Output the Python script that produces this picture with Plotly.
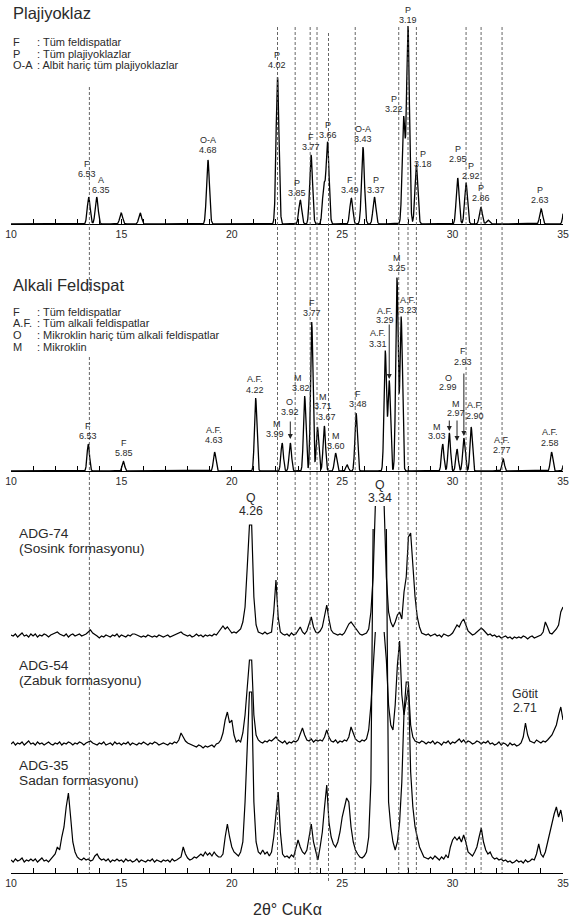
import numpy as np
import plotly.graph_objects as go

# ====================== DATA ======================
TICK_VALUES = list(range(10, 36))
TICK_TEXT = [str(v) if v % 5 == 0 else "" for v in TICK_VALUES]

# Panel 1 - Plajiyoklaz (reference stick pattern)
PLAG_2THETA = [13.52, 13.88, 14.99, 15.85, 18.92, 22.07, 23.10, 23.59, 24.17, 24.34,
               25.41, 25.94, 26.46, 27.78, 27.98, 28.36, 30.23, 30.61, 31.28, 31.60,
               34.01, 35.08]
PLAG_INTENSITY = [27, 27, 11, 11, 64, 147, 24, 69, 38, 81,
                  26, 77, 27, 106, 197, 59, 46, 41, 17, 4,
                  15, 22]
PLAG_KEYS = ["F", "A", "O-A", "P", "P", "F", "P", "F", "O-A", "P", "P", "P", "P", "P", "P", "P", "P"]
PLAG_D = ["6.53", "6.35", "4.68", "4.02", "3.85", "3.77", "3.66", "3.49", "3.43", "3.37",
          "3.22", "3.19", "3.18", "2.95", "2.92", "2.86", "2.63"]

# Panel 2 - Alkali feldispat (reference stick pattern)
ALK_2THETA = [13.50, 15.09, 19.22, 21.08, 22.28, 22.65, 23.30, 23.62, 23.88, 24.19,
              24.70, 25.22, 25.63, 26.95, 27.13, 27.48, 27.67, 29.55, 29.85, 30.20,
              30.51, 30.84, 32.29, 34.48, 35.08]
ALK_INTENSITY = [27, 9.5, 19, 73, 28, 28, 75, 149, 44, 45,
                 18, 6, 58, 120, 90, 193, 154, 27, 38, 22,
                 33, 44, 12, 19, 16]
ALK_KEYS = ["F", "F", "A.F.", "A.F.", "M", "O", "M", "F", "M", "", "M", "F", "A.F.", "A.F.",
            "M", "A.F.", "M", "O", "M", "F", "A.F.", "A.F.", "A.F."]
ALK_D = ["6.53", "5.85", "4.63", "4.22", "3.99", "3.92", "3.82", "3.77", "3.71", "3.67", "3.60",
         "3.48", "3.31", "3.29", "3.25", "3.23", "3.03", "2.99", "2.97", "2.93", "2.90", "2.77", "2.58"]

# Guide lines (°2θ)
GUIDE_2THETA = [13.55, 22.07, 22.87, 23.55, 23.86, 24.38, 25.59, 27.56, 27.98, 28.36,
                30.61, 31.29, 32.24]

# Panel 3 - measured patterns, sampled every 0.1° from 10.0 to 35.0 (intensity above own baseline)
SCAN_START, SCAN_STEP = 10.0, 0.1
ADG74 = [2, 1, 3, 0, 2, 4, 1, 2, 0, 3,
         1, 3, 0, 2, 1, 3, 2, 0, 2, 3,
         4, 5, 3, 2, 1, 3, 0, 2, 3, 1,
         2, 3, 1, 2, 3, 5, 7, 4, 2, 1,
         -1, 1, 0, 2, 1, 0, 2, 1, 3, 0,
         2, 1, 0, 2, 1, 3, 3, 2, 1, 0,
         1, 0, 2, 1, 0, 1, 0, 2, 1, 0,
         1, 2, 0, 1, 2, 3, 4, 5, 3, 2,
         1, 2, 0, 1, 3, 1, 2, 0, 2, 1,
         2, 1, 3, 2, 5, 9, 11, 8, 10, 7,
         4, 5, 4, 6, 8, 15, 30, 70, 112, 112,
         40, 12, 5, 4, 3, 5, 3, 4, 5, 25,
         57, 20, 5, 3, 2, 3, 1, 4, 2, 3,
         6, 10, 5, 3, 6, 12, 20, 10, 5, 4,
         6, 10, 20, 32, 18, 7, 4, 3, 2, 3,
         2, 4, 8, 13, 15, 12, 9, 5, 3, 2,
         3, 4, 8, 25, 60, 131, None, None, None, 131,
         60, 25, 15, 10, 15, 22, 25, 18, 45, 60,
         100, 104, 70, 40, 20, 10, 4, 3, 2, 3,
         1, 2, 3, 1, 2, 0, 3, 2, 1, 2,
         4, 8, 12, 10, 15, 18, 12, 6, 4, 2,
         3, 5, 6, 9, 7, 4, 2, 3, 1, 2,
         0, 1, -1, 0, 1, -1, 0, -2, 0, -1,
         0, -1, 1, 0, -2, 0, 1, -1, 0, 1,
         2, 5, 15, 10, 4, 3, 5, 8, 12, 25,
         30]
ADG54 = [1, 3, 0, 2, 1, 3, 0, 2, 4, 1,
         2, 0, 3, 1, 2, 0, 2, 3, 1, 0,
         2, 1, 3, 0, 2, 1, 3, 2, 0, 2,
         1, 3, 2, 0, 2, 3, 4, 2, 1, 0,
         2, 1, 3, 0, 1, 2, 0, 3, 1, 2,
         0, 2, 1, 3, 0, 2, 1, 0, 2, 1,
         3, 1, 0, 2, 1, 3, 2, 0, 1, 2,
         1, 0, 2, 1, 3, 2, 5, 12, 8, 4,
         2, 1, 0, -1, -2, 0, -1, -3, -1, -2,
         -1, 0, -2, 1, 2, 5, 12, 25, 33, 22,
         25, 10, 3, 5, 3, 12, 30, 60, 85, 85,
         30, 10, 5, 3, 2, 4, 3, 5, 4, 6,
         8, 5, 3, 2, 4, 1, 3, 2, 4, 3,
         5, 12, 17, 10, 5, 4, 6, 3, 5, 4,
         5, 4, 8, 15, 8, 4, 3, 5, 2, 4,
         3, 5, 4, 8, 18, 12, 6, 4, 3, 5,
         4, 6, 15, 40, 80, 113, None, None, None, 113,
         85, 40, 20, 15, 40, 80, 104, 50, 30, 45,
         58, 20, 8, 4, 3, 2, 4, 3, 1, 3,
         2, 4, 1, 3, 2, 0, 3, 2, 4, 1,
         3, 2, 4, 6, 3, 5, 2, 4, 3, 1,
         2, 4, 3, 1, 3, 2, 4, 1, 2, 0,
         1, 3, 0, 2, 1, -1, 2, 0, 1, -1,
         0, 2, 8, 22, 10, 4, 3, 2, 5, 3,
         2, 4, 3, 5, 8, 10, 15, 20, 30, 38,
         25]
ADG35 = [2, 0, 3, 1, 2, 4, 0, 2, 1, 3,
         1, 3, 0, 2, 4, 1, 2, 0, 3, 5,
         8, 15, 12, 25, 35, 55, 69, 45, 20, 10,
         5, 3, 2, 4, 2, 3, 1, 2, 6, 8,
         4, 2, 3, 1, 3, 0, 2, 1, 3, 1,
         2, 0, 3, 1, 2, 0, 1, 3, 0, 2,
         1, 0, 2, 1, 3, 0, 2, 1, 0, 2,
         1, 2, 0, 3, 1, 2, 4, 5, 15, 8,
         4, 2, 3, 5, 4, 6, 8, 6, 10, 7,
         9, 6, 10, 7, 5, 5, 8, 25, 38, 25,
         15, 10, 8, 6, 10, 20, 60, 120, 170, 170,
         60, 20, 10, 8, 12, 8, 10, 6, 10, 25,
         50, 70, 30, 8, 5, 6, 4, 7, 5, 15,
         22, 15, 10, 8, 12, 25, 38, 20, 10, 2,
         15, 30, 55, 77, 40, 25, 18, 15, 20, 30,
         45, 55, 64, 60, 35, 20, 12, 8, 5, 4,
         6, 10, 25, 80, 333, None, None, None, None, None,
         333, 60, 35, 20, 12, 20, 40, 80, 150, 180,
         180, 90, 55, 35, 25, 15, 10, 5, 4, 3,
         5, 3, 6, 4, 2, 5, 3, 7, 4, 15,
         22, 25, 22, 25, 20, 27, 20, 10, 8, 6,
         10, 15, 25, 34, 20, 12, 8, 10, 5, 3,
         4, 2, 3, 1, 2, 0, 1, -1, 0, 2,
         0, 1, -1, 2, 0, 1, 3, 2, 8, 18,
         8, 5, 10, 20, 30, 40, 48, 55, 45, 52,
         40]
SAMPLES = [("ADG-74", "(Sosink formasyonu)"), ("ADG-54", "(Zabuk formasyonu)"),
           ("ADG-35", "Sadan formasyonu)")]

# ====================== LAYOUT HELPERS ======================
W, H = 569, 922
ML, MR = 11, 6
PW = W - ML - MR
AX1, AX2, AX3 = 224, 471, 873          # pixel rows of the three x axes
TOP1, TOP2, TOP3 = 0, 250, 480
SCAN_OFFSETS = [236, 128, 11]          # vertical stacking of the three scans
PEAK_SIGMA_1, PEAK_SIGMA_2 = 0.065, 0.055

FONT = "Liberation Sans, Arial, sans-serif"
TXT = "#2a2a2a"


def yp(py):
    return 1 - py / H


def xp(px):
    return (px - ML) / PW


def profile(pos, inten, sigma, grid):
    y = np.zeros_like(grid)
    for p, a in zip(pos, inten):
        y += a * np.exp(-0.5 * ((grid - p) / sigma) ** 2)
    return y


grid = np.arange(10.0, 35.0001, 0.005)
fig = go.Figure()
fig.add_trace(go.Scatter(x=grid, y=profile(PLAG_2THETA, PLAG_INTENSITY, PEAK_SIGMA_1, grid),
                         mode="lines", line=dict(color="black", width=1.3),
                         xaxis="x", yaxis="y", hoverinfo="skip"))
fig.add_trace(go.Scatter(x=grid, y=profile(ALK_2THETA, ALK_INTENSITY, PEAK_SIGMA_2, grid),
                         mode="lines", line=dict(color="black", width=1.3),
                         xaxis="x2", yaxis="y2", hoverinfo="skip"))

scan_x = [round(SCAN_START + SCAN_STEP * i, 2) for i in range(len(ADG74))]
for scan, off in zip([ADG74, ADG54, ADG35], SCAN_OFFSETS):
    assert len(scan) == 251
    fig.add_trace(go.Scatter(x=scan_x, y=[None if v is None else v + off for v in scan],
                             mode="lines", line=dict(color="black", width=1.2),
                             connectgaps=False, xaxis="x3", yaxis="y3", hoverinfo="skip"))

ann = []


def lab(x, y, text, xref, yref, size=9, color=TXT, xanchor="center"):
    ann.append(dict(x=x, y=y, xref=xref, yref=yref, text=text, showarrow=False,
                    font=dict(family=FONT, size=size, color=color), xanchor=xanchor,
                    yanchor="middle"))


# peak labels, panel 1 (x, letter height, number height)
P1_LABEL_POS = [(13.44, 60, 50), (14.08, 44, 34), (18.91, 84, 74), (22.06, 169, 159),
                (22.95, 41, 31), (23.57, 87, 77), (24.36, 99, 89), (25.34, 44, 34),
                (25.94, 95, 85), (26.53, 44, 34), (27.36, 125, 115), (27.97, 214, 204),
                (28.67, 70, 60), (30.23, 75, 65), (30.83, 58, 48), (31.29, 36, 26),
                (33.96, 34, 24)]
for (k, d), (x, ly, ny) in zip(zip(PLAG_KEYS, PLAG_D), P1_LABEL_POS):
    lab(x, ly, k, "x", "y")
    lab(x, ny, d, "x", "y")

# peak labels, panel 2 (letter x, letter y, number x, number y)
P2_LABEL_POS = [(13.49, 45, 13.49, 35), (15.13, 28, 15.13, 18), (19.21, 41, 19.21, 31),
                (21.06, 92, 21.06, 81), (22.06, 47, 21.96, 37), (22.60, 69, 22.64, 59),
                (23.01, 93, 23.12, 83.5), (23.63, 168, 23.65, 158), (24.14, 74, 24.14, 65),
                (24.30, 0, 24.30, 54), (24.72, 35, 24.72, 25), (25.70, 77, 25.70, 67),
                (26.61, 138, 26.61, 127), (26.94, 160, 26.94, 151.5), (27.47, 213, 27.47, 203),
                (27.99, 171, 27.99, 161), (29.28, 44, 29.28, 35), (29.81, 93, 29.81, 84),
                (30.15, 67, 30.15, 58), (30.46, 120, 30.46, 109), (31.01, 66, 31.01, 55),
                (32.25, 31, 32.25, 21), (34.41, 39, 34.41, 28)]
for (k, d), (lx, ly, nx, ny) in zip(zip(ALK_KEYS, ALK_D), P2_LABEL_POS):
    if k:
        lab(lx, ly, k, "x2", "y2")
    lab(nx, ny, d, "x2", "y2")

# arrows, panel 2 (x, from, to)
for x, y0, y1 in [(22.65, 51, 32), (27.13, 148, 92), (29.85, 52, 40), (30.20, 52, 30),
                  (30.51, 99, 35)]:
    ann.append(dict(x=x, y=y1, ax=x, ay=y0, xref="x2", yref="y2", axref="x2", ayref="y2",
                    text="", showarrow=True, arrowhead=2, arrowsize=1.0, arrowwidth=1,
                    arrowcolor="#222", standoff=0))

# titles and legends
LEG_FONT = 11
lab(xp(11), yp(13), "Plajiyoklaz", "paper", "paper", size=16.5, xanchor="left")
for (k, t), py in zip([("F", "Tüm feldispatlar"), ("P", "Tüm plajiyoklazlar"),
                       ("O-A", "Albit hariç tüm plajiyoklazlar")], [42, 53.7, 65.4]):
    lab(xp(11), yp(py), k, "paper", "paper", size=LEG_FONT, xanchor="left")
    lab(xp(34.5), yp(py), ": " + t, "paper", "paper", size=LEG_FONT, xanchor="left")

lab(xp(11), yp(285), "Alkali Feldispat", "paper", "paper", size=16.5, xanchor="left")
for (k, t), py in zip([("F", "Tüm feldispatlar"), ("A.F.", "Tüm alkali feldispatlar"),
                       ("O", "Mikroklin hariç tüm alkali feldispatlar"), ("M", "Mikroklin")],
                      [311.5, 323.2, 334.9, 346.6]):
    lab(xp(11), yp(py), k, "paper", "paper", size=LEG_FONT, xanchor="left")
    lab(xp(34.5), yp(py), ": " + t, "paper", "paper", size=LEG_FONT, xanchor="left")

for (name, form), py in zip(SAMPLES, [533, 665, 765]):
    lab(xp(16.5), yp(py), name, "paper", "paper", size=13.7, xanchor="left")
    lab(xp(16.5), yp(py + 15.5), form, "paper", "paper", size=13.7, xanchor="left")

lab(20.87, yp(498), "Q", "x3", "paper", size=12.3)
lab(20.87, yp(511), "4.26", "x3", "paper", size=12.3)
lab(26.71, yp(485), "Q", "x3", "paper", size=12.3)
lab(26.71, yp(498), "3.34", "x3", "paper", size=12.3)
lab(33.28, yp(694), "Götit", "x3", "paper", size=12.3)
lab(33.28, yp(707.5), "2.71", "x3", "paper", size=12.3)
lab(xp(287), yp(909), "2θ° CuKα", "paper", "paper", size=16)

# dashed guide lines (x, top px, bottom px)
shapes = []
GUIDE_SPANS = {13.55: [(87, 293), (357, 873)], 24.38: [(33, 883)]}
for g in GUIDE_2THETA:
    for top, bot in GUIDE_SPANS.get(g, [(27, 873)]):
        shapes.append(dict(type="line", xref="x", yref="paper", x0=g, x1=g,
                           y0=yp(top), y1=yp(bot),
                           line=dict(color="#555", width=0.9, dash="3px,2px")))

xcommon = dict(range=[10, 35], showgrid=False, zeroline=False, showline=True,
               linecolor="black", linewidth=1, ticks="inside", ticklen=5, tickcolor="black",
               tickwidth=1, tickvals=TICK_VALUES, ticktext=TICK_TEXT,
               tickfont=dict(family=FONT, size=10.5, color=TXT))
ycommon = dict(showgrid=False, zeroline=False, showline=False, showticklabels=False,
               ticks="")

fig.update_layout(
    width=W, height=H, margin=dict(l=ML, r=MR, t=0, b=0),
    paper_bgcolor="white", plot_bgcolor="white", showlegend=False,
    xaxis=dict(**xcommon, anchor="y"),
    xaxis2=dict(**xcommon, anchor="y2"),
    xaxis3=dict(**xcommon, anchor="y3"),
    yaxis=dict(**ycommon, domain=[yp(AX1), yp(TOP1)], range=[0, AX1 - TOP1]),
    yaxis2=dict(**ycommon, domain=[yp(AX2), yp(TOP2)], range=[0, AX2 - TOP2]),
    yaxis3=dict(**ycommon, domain=[yp(AX3), yp(TOP3)], range=[0, AX3 - TOP3]),
    annotations=ann, shapes=shapes,
)
fig.write_html("out.html")
